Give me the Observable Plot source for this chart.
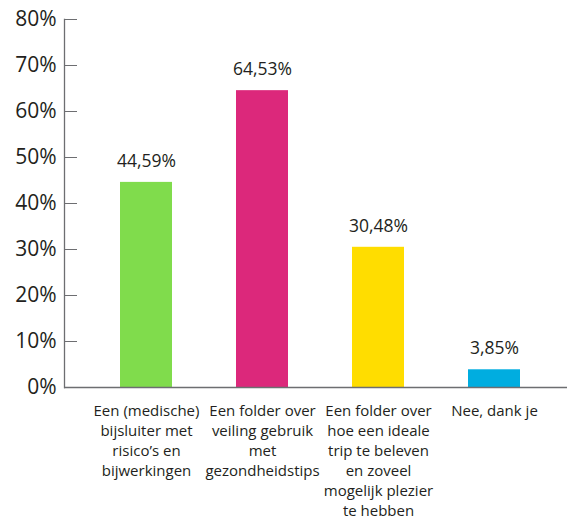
<!DOCTYPE html>
<html>
<head>
<meta charset="utf-8">
<script src="https://cdn.jsdelivr.net/npm/d3@7"></script>
<script src="https://cdn.jsdelivr.net/npm/@observablehq/plot@0.6"></script>
<style>
  html, body { margin: 0; padding: 0; background: #fff; }
  #chart svg { display: block; }
</style>
</head>
<body>
<div id="chart"></div>
<script>
// Antwoorden en percentages
const categories = [
  "Een (medische)\nbijsluiter met\nrisico’s en\nbijwerkingen",
  "Een folder over\nveiling gebruik\nmet\ngezondheidstips",
  "Een folder over\nhoe een ideale\ntrip te beleven\nen zoveel\nmogelijk plezier\nte hebben",
  "Nee, dank je"
];
const values = [44.59, 64.53, 30.48, 3.85];
const colors = ["#80dc4c", "#dc287b", "#ffdd00", "#00ade0"];
const yTicks = [0, 10, 20, 30, 40, 50, 60, 70, 80];

const data = categories.map((c, i) => ({cat: c, value: values[i], color: colors[i]}));
const fmt = v => v.toFixed(2).replace(".", ",") + "%";
const ink = "#231f20";
const axisGray = "#6d6e71";

const chart = Plot.plot({
  width: 567,
  height: 521,
  marginLeft: 64,
  marginRight: 0,
  marginTop: 19,
  marginBottom: 134,
  style: {fontFamily: "'Open Sans', sans-serif", color: ink, background: "#fff"},
  x: {domain: categories, paddingInner: 0.554, paddingOuter: 0, insetLeft: 55, insetRight: 46, axis: null},
  y: {domain: [0, 80], axis: null},
  marks: [
    Plot.barY(data, {x: "cat", y: "value", fill: "color"}),
    // y-as: lijn, naar binnen gerichte streepjes en labels
    Plot.frame({anchor: "left", stroke: axisGray, strokeWidth: 1.3}),
    Plot.axisY(yTicks, {
      tickSize: -13, tickPadding: 21, label: null,
      tickFormat: d => d + "%", fontSize: 21, stroke: axisGray, fill: ink
    }),
    Plot.ruleY([0], {stroke: axisGray, strokeWidth: 1.5}),
    // waardelabels boven de staven
    Plot.text(data, {x: "cat", y: "value", text: d => fmt(d.value), dy: -21, fontSize: 17.5, fill: ink}),
    // categorielabels onder de as
    Plot.text(data, {x: "cat", y: 0, text: "cat", lineAnchor: "top", dy: 14, fontSize: 15, lineHeight: 20 / 15, fill: ink})
  ]
});

document.getElementById("chart").appendChild(chart);
</script>
</body>
</html>
